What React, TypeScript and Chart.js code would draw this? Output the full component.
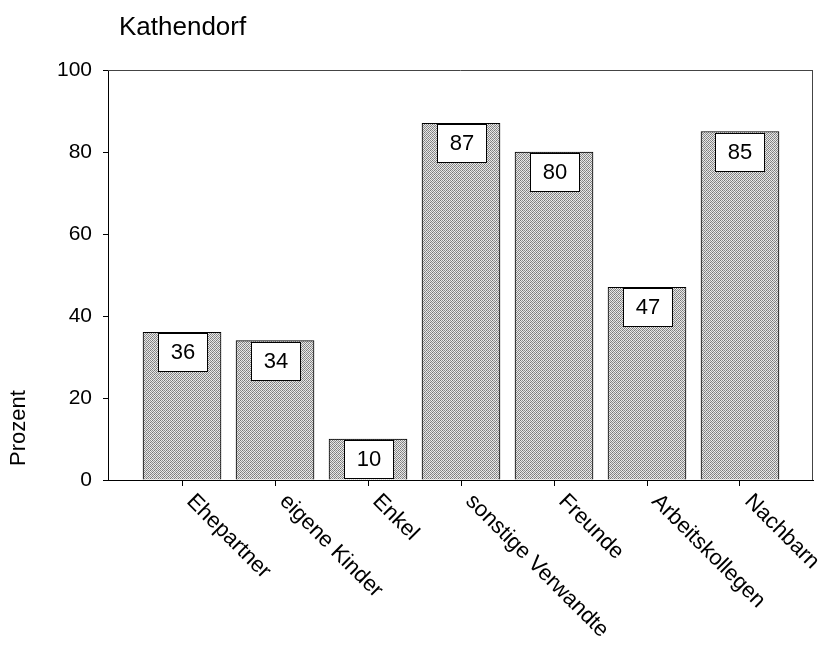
import React, { useEffect, useRef } from "react";
import { Chart, registerables } from "chart.js";

Chart.register(...registerables);

const chartTitle = "Kathendorf";
const yAxisLabel = "Prozent";
const categories = [
  "Ehepartner",
  "eigene Kinder",
  "Enkel",
  "sonstige Verwandte",
  "Freunde",
  "Arbeitskollegen",
  "Nachbarn",
];
const values = [36, 34, 10, 87, 80, 47, 85];
const yTicks = [0, 20, 40, 60, 80, 100];

const FONT = '"Liberation Sans", Arial, Helvetica, sans-serif';
const X_MIN = -0.796;
const X_MAX = 6.785;

function makePattern(ctx: CanvasRenderingContext2D) {
  const c = document.createElement("canvas");
  c.width = 4;
  c.height = 4;
  const g = c.getContext("2d")!;
  const cols = [
    ["#747474", "#e6e6e6", "#909090", "#eeeeee"],
    ["#ececec", "#9a9a9a", "#dedede", "#828282"],
    ["#8c8c8c", "#e8e8e8", "#787878", "#e0e0e0"],
    ["#e4e4e4", "#868686", "#f0f0f0", "#969696"],
  ];
  for (let y = 0; y < 4; y++) {
    for (let x = 0; x < 4; x++) {
      g.fillStyle = cols[y][x];
      g.fillRect(x, y, 1, 1);
    }
  }
  return ctx.createPattern(c, "repeat")!;
}

const overlay = {
  id: "overlay",
  afterDraw(chart: any) {
    const ctx: CanvasRenderingContext2D = chart.ctx;
    const area = chart.chartArea;
    const xs = chart.scales.x;
    ctx.save();

    // frame top + right
    ctx.strokeStyle = "#444";
    ctx.lineWidth = 1;
    ctx.beginPath();
    ctx.moveTo(area.left, Math.round(area.top) + 0.5);
    ctx.lineTo(area.right, Math.round(area.top) + 0.5);
    ctx.moveTo(Math.round(area.right) - 0.5, area.top);
    ctx.lineTo(Math.round(area.right) - 0.5, area.bottom);
    ctx.stroke();

    // title
    ctx.fillStyle = "#000";
    ctx.font = `26px ${FONT}`;
    ctx.textAlign = "left";
    ctx.textBaseline = "alphabetic";
    ctx.fillText(chartTitle, 119, 35);

    // y-axis label
    ctx.save();
    ctx.translate(25, 428);
    ctx.rotate(-Math.PI / 2);
    ctx.font = `22px ${FONT}`;
    ctx.textAlign = "center";
    ctx.textBaseline = "alphabetic";
    ctx.fillText(yAxisLabel, 0, 0);
    ctx.restore();

    // value boxes
    const meta = chart.getDatasetMeta(0);
    meta.data.forEach((el: any, i: number) => {
      const bw = 49;
      const bh = 38;
      const left = Math.round(el.x - bw / 2);
      const top = Math.round(el.y) + 1;
      ctx.fillStyle = "#fff";
      ctx.fillRect(left, top, bw, bh);
      ctx.strokeStyle = "#000";
      ctx.lineWidth = 1;
      ctx.strokeRect(left + 0.5, top + 0.5, bw, bh);
      ctx.fillStyle = "#000";
      ctx.font = `22px ${FONT}`;
      ctx.textAlign = "center";
      ctx.textBaseline = "alphabetic";
      ctx.fillText(String(values[i]), left + bw / 2 + 0.5, top + 26);
    });

    // category labels rotated +45deg
    categories.forEach((lab, i) => {
      const x = xs.getPixelForValue(i);
      ctx.save();
      ctx.translate(x + 8, area.bottom + 18);
      ctx.rotate(Math.PI / 4);
      ctx.font = `22px ${FONT}`;
      ctx.fillStyle = "#000";
      ctx.textAlign = "left";
      ctx.textBaseline = "middle";
      ctx.fillText(lab, 0, 0);
      ctx.restore();
    });

    ctx.restore();
  },
};

export default function App() {
  const ref = useRef<HTMLCanvasElement | null>(null);

  useEffect(() => {
    const canvas = ref.current!;
    const ctx = canvas.getContext("2d")!;
    const pattern = makePattern(ctx);
    const chart = new Chart(canvas, {
      type: "bar",
      data: {
        datasets: [
          {
            data: values.map((v, i) => ({ x: i, y: v })) as any,
            backgroundColor: pattern as any,
            borderColor: "#000",
            borderWidth: 1,
            barThickness: 78,
          },
        ],
      },
      options: {
        responsive: false,
        animation: false,
        devicePixelRatio: 1,
        layout: { padding: { top: 70, right: 9, bottom: 162, left: 0 } },
        plugins: {
          legend: { display: false },
          tooltip: { enabled: false },
          title: { display: false },
        },
        scales: {
          x: {
            type: "linear",
            offset: false,
            min: X_MIN,
            max: X_MAX,
            afterBuildTicks: (s: any) => {
              s.ticks = categories.map((_, i) => ({ value: i }));
            },
            afterFit: (s: any) => {
              s.height = 6;
            },
            ticks: { display: false },
            grid: {
              offset: false,
              drawOnChartArea: false,
              drawTicks: true,
              tickLength: 6,
              color: "#000",
              lineWidth: 1,
            },
            border: { display: true, color: "#000", width: 1 },
          },
          y: {
            min: 0,
            max: 100,
            afterBuildTicks: (s: any) => {
              s.ticks = yTicks.map((v) => ({ value: v }));
            },
            afterFit: (s: any) => {
              s.width = 108;
            },
            ticks: {
              font: { family: FONT, size: 21 },
              color: "#000",
              padding: 11,
            },
            grid: {
              drawOnChartArea: false,
              drawTicks: true,
              tickLength: 5,
              color: "#000",
            },
            border: { display: true, color: "#000", width: 1 },
          },
        },
      } as any,
      plugins: [overlay],
    });
    return () => chart.destroy();
  }, []);

  return (
    <div style={{ position: "fixed", left: 0, top: 0, width: 822, height: 648, background: "#fff" }}>
      <canvas ref={ref} width={822} height={648} style={{ width: 822, height: 648, display: "block" }} />
    </div>
  );
}
